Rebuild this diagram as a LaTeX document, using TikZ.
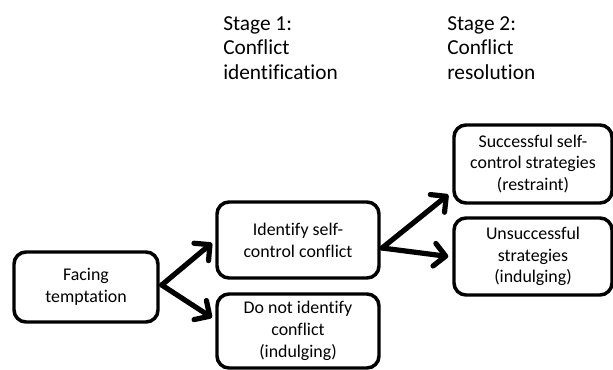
\documentclass[tikz,border=0pt]{standalone}
\usepackage{fontspec}
\setmainfont{Carlito}[RawFeature={-liga}]
\usetikzlibrary{arrows.meta}
\tikzset{
  box/.style={draw, line width=2.6pt, rounded corners=9pt, align=center, inner sep=0pt,
    font=\fontsize{13.4pt}{16.3pt}\selectfont},
  stage/.style={anchor=north west, align=left, inner sep=0pt,
    font=\fontsize{16pt}{18.4pt}\selectfont},
  arr/.style={line width=3.9pt, line cap=round,
    -{Straight Barb[length=8.5pt,width=17pt,line cap=round,line join=round]}}
}
\begin{document}
\begin{tikzpicture}[x=0.75pt,y=-0.75pt]
\useasboundingbox (0,0) rectangle (613,370);
\node[stage] (s1) at (223,16) {Stage 1:\\Conflict\\identification};
\node[stage] (s2) at (447,16) {Stage 2:\\Conflict\\resolution};
\node[box, minimum width=108pt, minimum height=52.5pt] (face) at (86,287) {Facing\\temptation};
\node[box, minimum width=121.5pt, minimum height=57pt] (ident) at (298,240) {Identify self-\\control conflict};
\node[box, minimum width=121.5pt, minimum height=55.5pt] (noid) at (298,331) {Do not identify\\conflict\\(indulging)};
\node[box, minimum width=118.5pt, minimum height=58.5pt] (succ) at (533,164) {Successful self-\\control strategies\\(restraint)};
\node[box, minimum width=118.5pt, minimum height=57.75pt] (unsucc) at (533,256.5) {Unsuccessful\\strategies\\(indulging)};
\draw[arr] ([xshift=1.5pt,yshift=1.5pt]face.east) -- ([xshift=-2.5pt,yshift=-2.25pt]ident.west);
\draw[arr] ([xshift=1.5pt,yshift=1.5pt]face.east) -- ([xshift=-2.5pt,yshift=10pt]noid.west);
\draw[arr] ([xshift=1pt,yshift=-6pt]ident.east) -- ([xshift=-3pt,yshift=-23pt]succ.west);
\draw[arr] ([xshift=1pt,yshift=-6pt]ident.east) -- ([xshift=-3pt,yshift=0pt]unsucc.west);
\end{tikzpicture}
\end{document}
